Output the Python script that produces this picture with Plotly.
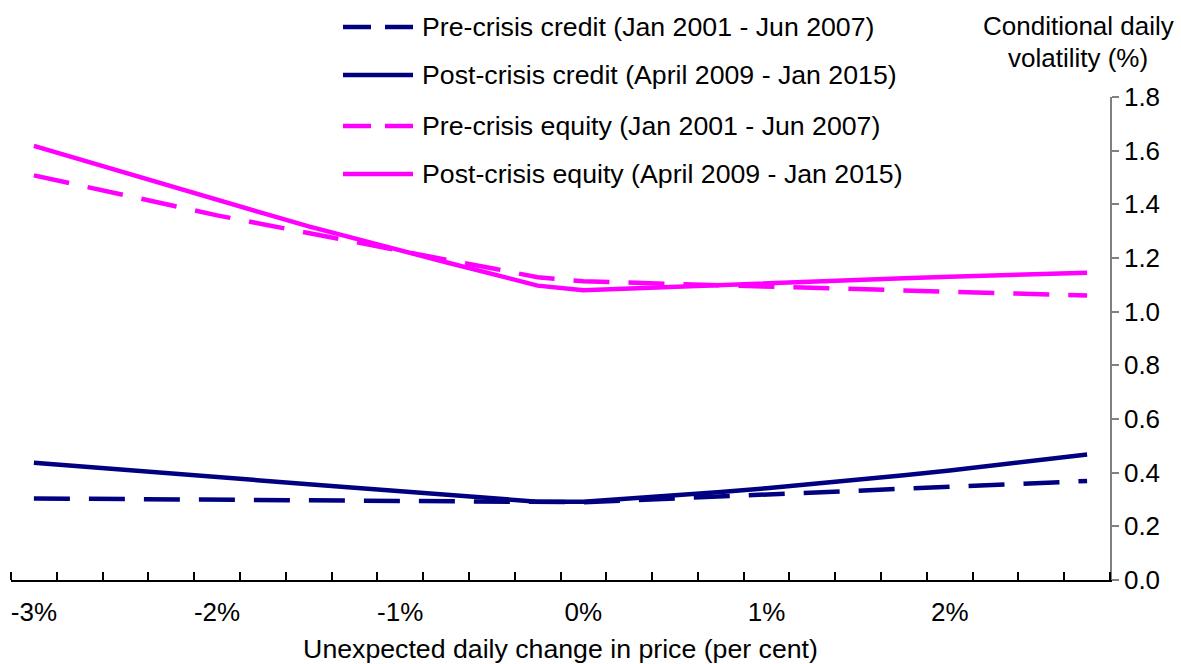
import plotly.graph_objects as go

# ---------------- data ----------------
x_pct = [-3.0, -2.75, -2.5, -2.25, -2.0, -1.75, -1.5, -1.25, -1.0, -0.75, -0.5, -0.25,
         0.0, 0.25, 0.5, 0.75, 1.0, 1.25, 1.5, 1.75, 2.0, 2.25, 2.5, 2.75]

pre_credit = [0.304, 0.303, 0.302, 0.301, 0.300, 0.299, 0.298, 0.297, 0.296, 0.295, 0.293, 0.291,
              0.290, 0.297, 0.304, 0.312, 0.319, 0.326, 0.333, 0.340, 0.348, 0.355, 0.362, 0.369]
post_credit = [0.437, 0.423, 0.410, 0.396, 0.383, 0.370, 0.357, 0.344, 0.331, 0.318, 0.305, 0.292,
               0.292, 0.303, 0.315, 0.328, 0.342, 0.357, 0.373, 0.390, 0.408, 0.427, 0.447, 0.468]
pre_equity = [1.508, 1.470, 1.432, 1.394, 1.359, 1.326, 1.292, 1.260, 1.227, 1.194, 1.162, 1.128,
              1.113, 1.108, 1.103, 1.099, 1.094, 1.089, 1.084, 1.079, 1.074, 1.070, 1.065, 1.060]
post_equity = [1.618, 1.567, 1.516, 1.466, 1.415, 1.367, 1.318, 1.272, 1.227, 1.184, 1.141, 1.097,
               1.080, 1.087, 1.094, 1.100, 1.107, 1.113, 1.119, 1.125, 1.130, 1.135, 1.140, 1.145]

series_names = [
    "Pre-crisis credit (Jan 2001 - Jun 2007)",
    "Post-crisis credit (April 2009 - Jan 2015)",
    "Pre-crisis equity (Jan 2001 - Jun 2007)",
    "Post-crisis equity (April 2009 - Jan 2015)",
]
x_tick_vals = [-3, -2, -1, 0, 1, 2]
x_tick_text = ["-3%", "-2%", "-1%", "0%", "1%", "2%"]
y_tick_vals = [0.0, 0.2, 0.4, 0.6, 0.8, 1.0, 1.2, 1.4, 1.6, 1.8]
x_title = "Unexpected daily change in price (per cent)"
y_title_lines = ["Conditional daily", "volatility (%)"]

# ---------------- layout geometry ----------------
W, H = 1181, 664
L, R, T, B = 11, 71, 97, 84
PW, PH = W - L - R, H - T - B
FONT = "Liberation Sans, Arial, sans-serif"
FS_TEXT = 26.7
FS_TICK = 26
NAVY = "#000080"
MAGENTA = "#FF00FF"
LW = 4.5


def px_x(px):
    return (px - L) / PW


def px_y(py):
    return (H - B - py) / PH


styles = [
    (NAVY, "36px,19px"),
    (NAVY, "solid"),
    (MAGENTA, "36px,19px"),
    (MAGENTA, "solid"),
]
all_series = [pre_credit, post_credit, pre_equity, post_equity]

fig = go.Figure()
for name, ys, (col, dash) in zip(series_names, all_series, styles):
    fig.add_trace(go.Scatter(x=x_pct, y=ys, mode="lines", name=name,
                             line=dict(color=col, width=LW, dash=dash),
                             showlegend=False))

# manual legend (long line samples like the original)
legend_rows = [27, 75, 126, 174]
shapes = []
annotations = []
for name, (col, dash), py in zip(series_names, styles, legend_rows):
    ldash = "28px,14px" if dash != "solid" else "solid"
    shapes.append(dict(type="line", xref="paper", yref="paper",
                       x0=px_x(343), x1=px_x(413), y0=px_y(py), y1=px_y(py),
                       line=dict(color=col, width=LW, dash=ldash)))
    annotations.append(dict(xref="paper", yref="paper", x=px_x(420), y=px_y(py),
                            xanchor="left", yanchor="middle", showarrow=False,
                            text=name, font=dict(family=FONT, size=FS_TEXT, color="black")))

for line_text, py in zip(y_title_lines, [26, 58]):
    annotations.append(dict(xref="paper", yref="paper", x=px_x(1078), y=px_y(py),
                            xanchor="center", yanchor="middle", showarrow=False,
                            text=line_text, font=dict(family=FONT, size=26, color="black")))

fig.update_layout(
    width=W, height=H,
    margin=dict(l=L, r=R, t=T, b=B, pad=0, autoexpand=False),
    paper_bgcolor="white", plot_bgcolor="white",
    font=dict(family=FONT, size=FS_TICK, color="black"),
    shapes=shapes, annotations=annotations,
    xaxis=dict(range=[-3.125, 2.875], showgrid=False, zeroline=False,
               showline=True, linecolor="black", linewidth=1.5,
               ticks="", tickvals=x_tick_vals, ticktext=x_tick_text,
               tickfont=dict(family=FONT, size=FS_TICK), ticklabelstandoff=8,
               minor=dict(ticks="inside", ticklen=8, tickwidth=1.5, tickcolor="black",
                          tick0=-3.125, dtick=0.25, showgrid=False),
               title=dict(text=x_title, font=dict(family=FONT, size=FS_TEXT), standoff=14)),
    yaxis=dict(range=[0, 1.8], side="right", showgrid=False, zeroline=False,
               showline=True, linecolor="#808080", linewidth=1.5,
               ticks="outside", ticklen=7, tickwidth=1.5, tickcolor="#808080",
               tickvals=y_tick_vals, tickformat=".1f",
               tickfont=dict(family=FONT, size=FS_TICK)),
)

fig.write_html("out.html", config={"displayModeBar": False},
               post_script="document.body.style.margin='0';document.body.style.padding='0';")
